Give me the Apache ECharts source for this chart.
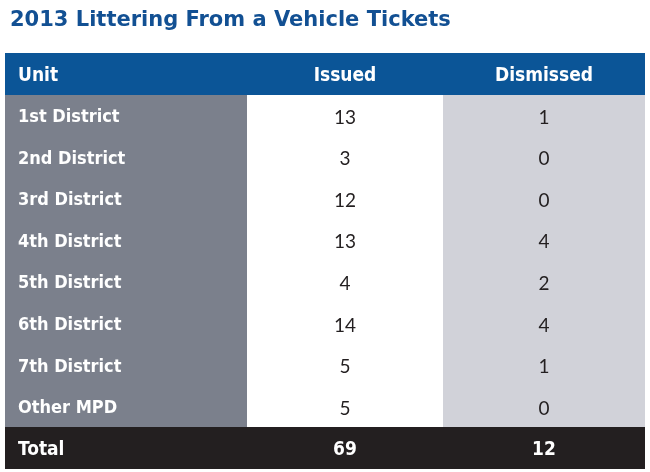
<!DOCTYPE html>
<html>
<head>
<meta charset="utf-8">
<script src="https://cdn.jsdelivr.net/npm/echarts@6/dist/echarts.min.js"></script>
<style>
  html, body { margin: 0; padding: 0; background: #fff; }
  #main { width: 650px; height: 472px; }
</style>
</head>
<body>
<div id="main"></div>
<script>
  var title = '2013 Littering From a Vehicle Tickets'
  var headers = ['Unit', 'Issued', 'Dismissed']
  var units = ['1st District', '2nd District', '3rd District', '4th District',
    '5th District', '6th District', '7th District', 'Other MPD']
  var issued = [13, 3, 12, 13, 4, 14, 5, 5]
  var dismissed = [1, 0, 0, 4, 2, 4, 1, 0]
  var totalLabel = 'Total'
  var totals = [69, 12]

  // column edges on the hidden x value axis (layout only)
  var colEdges = [0, 242, 438, 640]
  var labelFont = '"DejaVu Sans Condensed", "DejaVu Sans", sans-serif'
  var numFont = 'Lato, "Noto Sans", sans-serif'

  var rows = ['header'].concat(units, ['total'])
  var cells = []
  rows.forEach(function (r, ri) {
    for (var c = 0; c < 3; c++) {
      var text
      if (ri === 0) text = headers[c]
      else if (ri === rows.length - 1) text = c === 0 ? totalLabel : String(totals[c - 1])
      else text = c === 0 ? units[ri - 1] : String(c === 1 ? issued[ri - 1] : dismissed[ri - 1])
      cells.push({ value: [c, ri], text: text })
    }
  })

  function cellFill (c, ri) {
    if (ri === 0) return '#0b5597'
    if (ri === rows.length - 1) return '#231f20'
    return ['#7b808c', '#ffffff', '#d1d2d9'][c]
  }

  function renderItem (params, api) {
    var c = api.value(0)
    var ri = api.value(1)
    var cell = cells[params.dataIndex]
    var p0 = api.coord([colEdges[c], ri])
    var p1 = api.coord([colEdges[c + 1], ri])
    var h = api.size([0, 1])[1]
    var x0 = Math.round(p0[0])
    var x1 = Math.round(p1[0])
    var y0 = Math.round(p0[1] - h / 2)
    var y1 = Math.round(p0[1] + h / 2)
    var special = ri === 0 || ri === rows.length - 1
    var bold = special || c === 0
    return {
      type: 'group',
      children: [{
        type: 'rect',
        shape: { x: x0, y: y0, width: x1 - x0, height: y1 - y0 },
        style: { fill: cellFill(c, ri) }
      }, {
        type: 'text',
        style: {
          text: cell.text,
          x: c === 0 ? x0 + 13 : (x0 + x1) / 2,
          y: p0[1] + 2,
          align: c === 0 ? 'left' : 'center',
          verticalAlign: 'middle',
          fill: bold ? '#ffffff' : '#231f20',
          font: (bold ? 'bold ' + (special ? 19 : 18) + 'px ' + labelFont : '19px ' + numFont)
        }
      }]
    }
  }

  var chart = echarts.init(document.getElementById('main'))
  chart.setOption({
    animation: false,
    title: {
      text: title,
      left: 5,
      top: 5,
      textStyle: {
        fontSize: 21,
        fontWeight: 'bold',
        color: '#125093',
        fontFamily: '"DejaVu Sans", sans-serif'
      }
    },
    grid: { left: 5, right: 5, top: 53, bottom: 3 },
    xAxis: { type: 'value', min: 0, max: 640, show: false },
    yAxis: { type: 'category', data: rows, inverse: true, show: false },
    series: [{
      type: 'custom',
      renderItem: renderItem,
      data: cells
    }]
  })
</script>
</body>
</html>
